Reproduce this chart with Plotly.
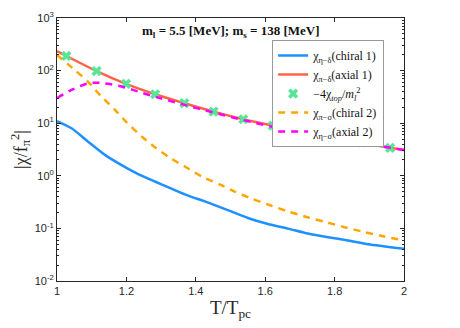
import plotly.graph_objects as go

# data
t_blue = [1.0, 1.042, 1.089, 1.138, 1.186, 1.234, 1.282, 1.33, 1.378, 1.426, 1.494,
          1.55, 1.608, 1.666, 1.723, 1.781, 1.839, 1.897, 2.0]
chiral1 = [11.0, 8.0, 4.5, 2.5, 1.6, 1.08, 0.78, 0.57, 0.42, 0.326, 0.22,
           0.158, 0.121, 0.099, 0.080, 0.068, 0.059, 0.050, 0.041]

t_orange = [1.0, 1.051, 1.089, 1.128, 1.167, 1.2, 1.244, 1.282, 1.325, 1.373,
            1.417, 1.47, 1.512, 1.565, 1.618, 1.666, 1.719, 1.772, 1.825, 1.877, 1.93, 2.0]
chiral2 = [198, 103, 62, 32, 18, 10.5, 5.6, 3.5, 2.2, 1.44,
           0.97, 0.68, 0.50, 0.36, 0.27, 0.21, 0.165, 0.133, 0.107, 0.088, 0.073, 0.059]

t_red = [1.0, 1.027, 1.114, 1.199, 1.283, 1.367, 1.451, 1.537, 1.622, 1.708,
         1.793, 1.878, 1.96, 2.0]
axial1 = [235, 190, 98, 56, 35.5, 24, 16.6, 11.9, 9.0, 6.8, 5.4, 4.3, 3.4, 3.1]

t_mag = [1.0, 1.042, 1.089, 1.118, 1.147, 1.195, 1.244, 1.282, 1.316, 1.421,
         1.575, 1.7, 1.85, 2.0]
axial2 = [30, 43, 57, 59, 56, 48, 38, 32, 27.6, 18, 10, 6.7, 4.5, 3.1]

t_top = [1.027, 1.114, 1.199, 1.283, 1.367, 1.451, 1.537, 1.622, 1.708, 1.793, 1.878, 1.96]
chi_top = [190, 98, 56, 35.5, 24, 16.6, 11.9, 9.0, 6.8, 5.4, 4.3, 3.4]

x_ticks = [1, 1.2, 1.4, 1.6, 1.8, 2]
x_labels = ["1", "1.2", "1.4", "1.6", "1.8", "2"]
y_ticks = [0.01, 0.1, 1, 10, 100, 1000]
y_labels = ["10<sup>-2</sup>", "10<sup>-1</sup>", "10<sup>0</sup>",
            "10<sup>1</sup>", "10<sup>2</sup>", "10<sup>3</sup>"]
minor_y = [m * d for d in [0.01, 0.1, 1, 10, 100] for m in range(2, 10)]

serif = "Liberation Serif"

fig = go.Figure()
fig.add_trace(go.Scatter(x=t_blue, y=chiral1, mode="lines", line_shape="spline",
                         line=dict(color="#1e90ff", width=2.5, smoothing=0.6),
                         name="χ<sub>η−δ</sub>(chiral 1)"))
fig.add_trace(go.Scatter(x=t_red, y=axial1, mode="lines", line_shape="spline",
                         line=dict(color="#ff6347", width=2.5),
                         name="χ<sub>π−δ</sub>(axial 1)"))
fig.add_trace(go.Scatter(x=t_top, y=chi_top, mode="markers",
                         marker=dict(symbol="x", size=9, color="#55e696", line=dict(width=0)),
                         name="−4χ<sub><i>top</i></sub>/<i>m</i><sub><i>l</i></sub><sup>2</sup>"))
fig.add_trace(go.Scatter(x=t_orange, y=chiral2, mode="lines", line_shape="spline",
                         line=dict(color="#ffa500", width=2.5, dash="7px,6px", smoothing=0.6),
                         name="χ<sub>π−σ</sub>(chiral 2)"))
fig.add_trace(go.Scatter(x=t_mag, y=axial2, mode="lines", line_shape="spline",
                         line=dict(color="#ff00ff", width=2.5, dash="7px,6px"),
                         name="χ<sub>η−σ</sub>(axial 2)"))

axis_common = dict(showline=True, linecolor="#262626", linewidth=1, mirror="ticks",
                   ticks="inside", tickcolor="#262626", showgrid=False, zeroline=False,
                   automargin=False,
                   tickfont=dict(family="Liberation Sans", size=11, color="#262626"))

fig.update_xaxes(range=[1, 2], tickvals=x_ticks, ticktext=x_labels, ticklen=4,
                 title=dict(text="T/T<sub>pc</sub>", font=dict(family=serif, size=19, color="#262626"),
                            standoff=4),
                 **axis_common)
fig.update_yaxes(type="log", range=[-2, 3], tickvals=y_ticks, ticktext=y_labels, ticklen=4,
                 minor=dict(tickvals=minor_y, ticks="inside", ticklen=2, tickcolor="#262626"),
                 title=dict(text="|χ/f<sub>π</sub><sup>2</sup>|", font=dict(family=serif, size=18, color="#262626"),
                            standoff=6),
                 **axis_common)

fig.add_annotation(text="<b>m<sub>l</sub> = 5.5 [MeV]; m<sub>s</sub> = 138 [MeV]</b>",
                   x=0.5, y=0.95, xref="paper", yref="paper", yanchor="middle", showarrow=False,
                   font=dict(family=serif, size=13, color="#111111"))

# page body adds an 8px offset, so the figure is 8px smaller and margins shifted
fig.update_layout(
    width=452, height=320,
    margin=dict(l=49, r=56, t=10, b=47),
    plot_bgcolor="white", paper_bgcolor="white",
    showlegend=True,
    legend=dict(x=0.62, y=0.916, xanchor="left", yanchor="top",
                bgcolor="white", bordercolor="#999999", borderwidth=1,
                font=dict(family=serif, size=12, color="#111111"),
                tracegroupgap=0, itemwidth=30),
)

fig.write_html("out.html")
